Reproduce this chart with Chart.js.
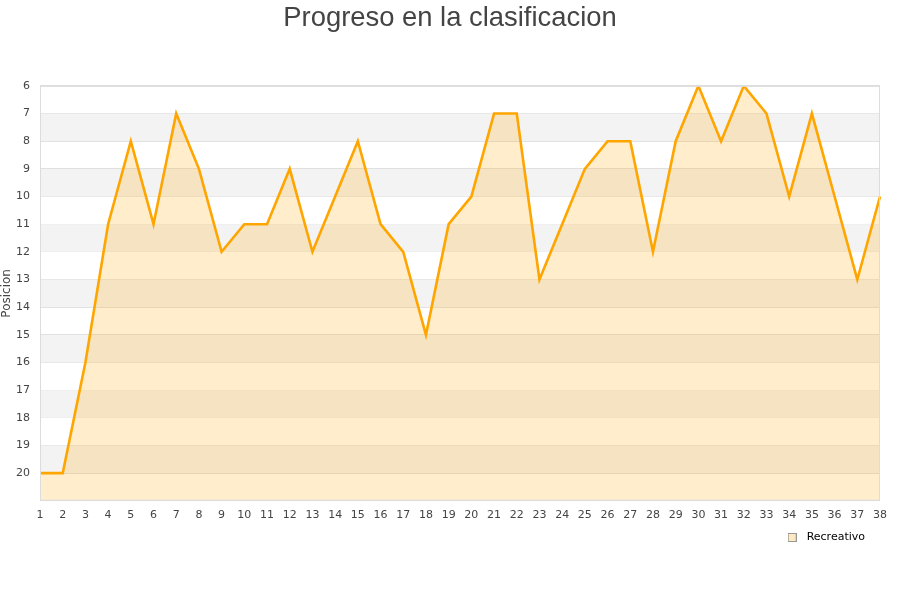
<!DOCTYPE html>
<html>
<head>
<meta charset="utf-8">
<script src="https://cdn.jsdelivr.net/npm/chart.js@4/dist/chart.umd.min.js"></script>
<style>
  html, body { margin: 0; padding: 0; background: #fff; }
  #wrap { width: 900px; height: 600px; }
</style>
</head>
<body>
<div id="wrap"><canvas id="chart"></canvas></div>
<script>
// Jornadas and position of the team after each one
const jornadas = [1,2,3,4,5,6,7,8,9,10,11,12,13,14,15,16,17,18,19,20,21,22,23,24,25,26,27,28,29,30,31,32,33,34,35,36,37,38];
const posiciones = [20,20,16,11,8,11,7,9,12,11,11,9,12,10,8,11,12,15,11,10,7,7,13,11,9,8,8,12,8,6,8,6,7,10,7,10,13,10];
const serieNombre = 'Recreativo';
const posMin = 6;
const posMax = 21;

// small square used as the legend marker
const marker = document.createElement('canvas');
marker.width = 9;
marker.height = 9;
(function () {
    const m = marker.getContext('2d');
    m.fillStyle = '#fde9c2';
    m.fillRect(0, 0, 9, 9);
    m.strokeStyle = '#999';
    m.lineWidth = 1;
    m.strokeRect(0.5, 0.5, 8, 8);
})();

// Alternating grey bands behind the plot, plus a thin frame
const bandsPlugin = {
    id: 'bands',
    afterLayout(chart) {
        // nudge the legend a little to the left, centre the title on the page
        chart.legend.left -= 5;
        chart.legend.right -= 5;
        chart.titleBlock.left += 10;
        chart.titleBlock.right += 10;
    },
    beforeDatasetsDraw(chart) {
        const ctx = chart.ctx;
        const area = chart.chartArea;
        const y = chart.scales.y;
        ctx.save();
        ctx.fillStyle = '#f3f3f3';
        for (let v = posMin; v < posMax; v++) {
            if (v % 2 === 1) {
                const top = y.getPixelForValue(v);
                const bot = y.getPixelForValue(v + 1);
                ctx.fillRect(area.left, top, area.right - area.left, bot - top);
            }
        }
        ctx.restore();
    },
    afterDraw(chart) {
        const ctx = chart.ctx;
        const a = chart.chartArea;
        ctx.save();
        ctx.strokeStyle = '#dcdcdc';
        ctx.lineWidth = 1;
        ctx.strokeRect(a.left + 0.5, a.top + 0.5, a.right - a.left - 1, a.bottom - a.top - 1);
        ctx.restore();
    }
};

const ctx = document.getElementById('chart').getContext('2d');
new Chart(ctx, {
    type: 'line',
    data: {
        labels: jornadas,
        datasets: [{
            label: serieNombre,
            data: posiciones,
            borderColor: '#FFA500',
            backgroundColor: 'rgba(255,165,0,0.2)',
            borderWidth: 2.6,
            pointRadius: 0,
            tension: 0,
            fill: { value: posMax }
        }]
    },
    options: {
        responsive: true,
        maintainAspectRatio: false,
        animation: false,
        layout: { padding: { left: 0, right: 20, top: 0, bottom: 47 } },
        plugins: {
            title: {
                display: true,
                text: 'Progreso en la clasificacion',
                color: '#444',
                font: { family: 'Liberation Sans', size: 27.4, weight: 'normal' },
                padding: { top: 2, bottom: 51 }
            },
            legend: {
                position: 'bottom',
                align: 'end',
                labels: {
                    usePointStyle: true,
                    pointStyleWidth: 18,
                    boxHeight: 9,
                    color: '#222',
                    font: { family: 'DejaVu Sans', size: 11 },
                    generateLabels(chart) {
                        return [{
                            text: serieNombre,
                            pointStyle: marker,
                            fillStyle: '#fde9c2',
                            strokeStyle: '#999',
                            lineWidth: 1,
                            datasetIndex: 0
                        }];
                    }
                }
            },
            tooltip: { enabled: false }
        },
        scales: {
            x: {
                offset: false,
                grid: { display: false },
                border: { display: false },
                ticks: {
                    color: '#444',
                    padding: 0,
                    font: { family: 'DejaVu Sans', size: 11 },
                    maxRotation: 0,
                    autoSkip: false
                }
            },
            y: {
                reverse: true,
                min: posMin,
                max: posMax,
                afterFit(scale) { scale.width = 40; },
                grid: { color: '#dddddd', drawTicks: false },
                border: { display: false },
                title: {
                    display: true,
                    text: 'Posicion',
                    color: '#444',
                    font: { family: 'DejaVu Sans', size: 12 },
                    padding: { top: 0, bottom: 0 }
                },
                ticks: {
                    stepSize: 1,
                    padding: 10,
                    color: '#444',
                    font: { family: 'DejaVu Sans', size: 11 },
                    callback: v => (v === posMax ? '' : v)
                }
            }
        }
    },
    plugins: [bandsPlugin]
});
</script>
</body>
</html>
